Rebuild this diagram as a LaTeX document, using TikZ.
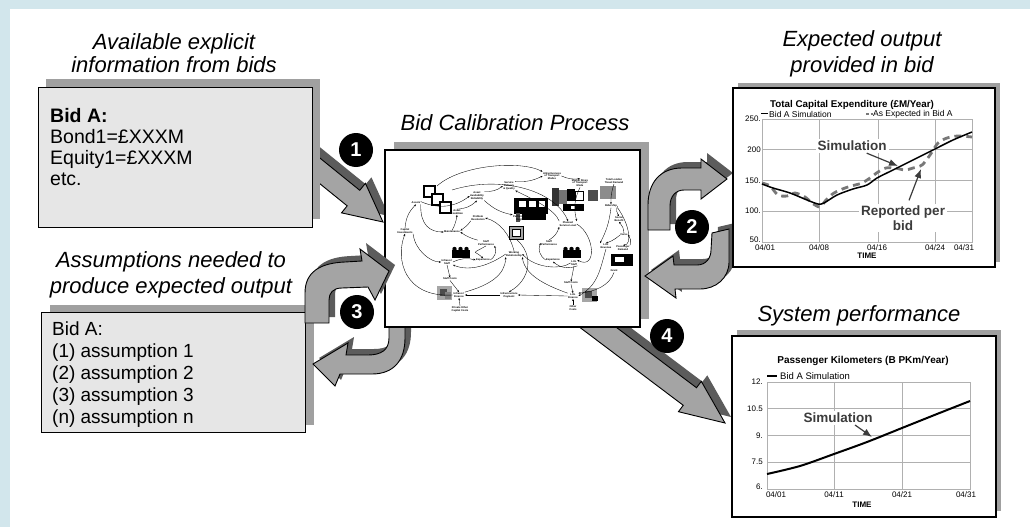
\documentclass[tikz,border=0pt]{standalone}
\usepackage{fontspec}
\setmainfont{Liberation Sans}
\usetikzlibrary{arrows.meta,shadows}
\definecolor{bgblue}{HTML}{D2E6EC}
\definecolor{boxgray}{HTML}{E6E6E6}
\definecolor{boxshadow}{HTML}{A0A0A0}
\definecolor{arrowgray}{HTML}{A4A4A4}
\definecolor{arrowshadow}{HTML}{5C5C5C}
\definecolor{gridgray}{HTML}{B0B0B0}
\definecolor{labelgray}{HTML}{3C3C3C}
\definecolor{dashgray}{HTML}{787878}

\tikzset{
  titletext/.style={font=\fontsize{22}{26}\selectfont\itshape, inner sep=0pt, anchor=base},
  boxtext/.style={font=\fontsize{19.5}{21}\selectfont, inner sep=0pt, anchor=base west},
  blockarr/.style={fill=arrowgray, draw=black, line width=0.9pt, line join=miter},
  arrshadow/.style={fill=arrowshadow},
  badge/.style={circle, fill=black, minimum size=34pt, inner sep=0pt, text=white, font=\fontsize{20}{20}\selectfont\bfseries},
  gridline/.style={gridgray, line width=0.6pt},
  ticklabel/.style={font=\fontsize{8}{9}\selectfont, inner sep=1pt},
  plotnote/.style={font=\fontsize{13.5}{15}\selectfont\bfseries, text=labelgray, fill=white, inner sep=2pt},
  notearrow/.style={labelgray, line width=1.2pt, -{Latex[length=9pt,width=7pt]}},
  cl/.style={font=\fontsize{2.6}{2.9}\selectfont\bfseries, align=center, inner sep=0.3pt},
  cla/.style={line width=0.35pt, -{Stealth[length=2.2pt,width=1.8pt]}},
}

% straight block arrow: tip x, tip y, rotation, total length, half shaft width, half head width, head length
\newcommand{\blockarrow}[7]{%
  \begin{scope}[shift={(#1+6,#2-6)},rotate=#3]
    \path[arrshadow] (-#4,-#5) -- (-#7,-#5) -- (-#7,-#6) -- (0,0) -- (-#7,#6) -- (-#7,#5) -- (-#4,#5) -- cycle;
  \end{scope}
  \begin{scope}[shift={(#1,#2)},rotate=#3]
    \path[blockarr] (-#4,-#5) -- (-#7,-#5) -- (-#7,-#6) -- (0,0) -- (-#7,#6) -- (-#7,#5) -- (-#4,#5) -- cycle;
  \end{scope}}

\def\arrowTwoA{(648,230) -- (648,205) .. controls (648,183) and (660,168) .. (682,168) -- (701,168) -- (701,159) -- (727,179) -- (701,199) -- (701,190) -- (684,190) .. controls (676,190) and (670,196) .. (670,206) -- (670,230) -- cycle}
\def\arrowTwoB{(712,233) -- (729,229) -- (729,262) .. controls (729,278) and (716,289) .. (700,289) -- (675,289) -- (676,298) -- (645,276) -- (673,256) -- (674,265) -- (697,265) .. controls (706,265) and (711,258) .. (711,250) -- cycle}
\def\arrowThreeA{(305,323) -- (305,293) .. controls (305,272) and (320,263) .. (345,262) -- (362,261) -- (360,249) -- (389,271) -- (375,300) -- (368,287) -- (342,288) .. controls (333,288) and (329,293) .. (329,300) -- (329,323) -- cycle}
\def\arrowThreeB{(389,318) -- (389,338) .. controls (389,350) and (381,355) .. (368,355) -- (346,355) -- (348,343) -- (313,364) -- (335,386) -- (340,374) -- (372,374) .. controls (394,374) and (405,360) .. (405,338) -- (405,318) -- cycle}

\begin{document}
\begin{tikzpicture}[x=1pt,y=-1pt]
\useasboundingbox (0,0) rectangle (1030,527);
\fill[bgblue] (0,0) rectangle (1030,527);
\fill[white] (10,9) rectangle (1030,527);

% straight arrows (behind boxes)
\blockarrow{383}{222}{-39}{110}{10}{19}{38}
\blockarrow{725}{423}{-37}{175}{11}{19}{44}

% ---------- Box 1 ----------
\node[titletext] (t1a) at (174,49) {Available explicit};
\node[titletext] (t1b) at (174,73) {information from bids};
\node[draw=black, line width=1pt, fill=boxgray, inner sep=0pt, minimum width=274pt, minimum height=140pt,
      drop shadow={shadow xshift=8pt, shadow yshift=8pt, fill=boxshadow, opacity=1}] (box1) at (175,157) {};
\node[boxtext] (b1l1) at (50,122) {\textbf{Bid A:}};
\node[boxtext] (b1l2) at (50,143) {Bond1=£XXXM};
\node[boxtext] (b1l3) at (50,164) {Equity1=£XXXM};
\node[boxtext] (b1l4) at (50,185) {etc.};

% ---------- Box 3 ----------
\node[titletext] (t3a) at (171,267) {Assumptions needed to};
\node[titletext] (t3b) at (171,293) {produce expected output};
\node[draw=black, line width=1pt, fill=boxgray, inner sep=0pt, minimum width=264pt, minimum height=120pt,
      drop shadow={shadow xshift=9pt, shadow yshift=7pt, fill=boxshadow, opacity=1}] (box3) at (173,372) {};
\node[boxtext, font=\fontsize{19}{21}\selectfont] (b3l1) at (52,335) {Bid A:};
\node[boxtext, font=\fontsize{19}{21}\selectfont] (b3l2) at (52,357) {(1) assumption 1};
\node[boxtext, font=\fontsize{19}{21}\selectfont] (b3l3) at (52,379) {(2) assumption 2};
\node[boxtext, font=\fontsize{19}{21}\selectfont] (b3l4) at (52,401) {(3) assumption 3};
\node[boxtext, font=\fontsize{19}{21}\selectfont] (b3l5) at (52,423) {(n) assumption n};

% lower-left curved arrow (behind centre box)
\path[arrshadow, shift={(6,-6)}] \arrowThreeB;
\path[blockarr] \arrowThreeB;

% ---------- Centre box ----------
\node[titletext] (tc) at (515,130) {Bid Calibration Process};
\node[draw=black, line width=1.2pt, fill=white, inner sep=0pt, minimum width=255pt, minimum height=177pt,
      drop shadow={shadow xshift=9pt, shadow yshift=8pt, fill=boxshadow, opacity=1}] (calib) at (512.5,238.5) {};

% icons of the causal diagram
\foreach \dx/\dy in {0/0,8/8,16/16} \draw[line width=1.5pt, fill=white] (424+\dx,186+\dy) rectangle ++(11,11);
\fill[black] (514,198) rectangle (548,214);
\fill[white] (519,201) rectangle (526,207); \fill[white] (529,201) rectangle (536,207); \fill[white] (539,201) rectangle (545,207);
\fill[black] (522,214) rectangle (546,220);
\fill[black!70] (516,213) rectangle (520,222);
\fill[black!80] (552,188) rectangle (559,206);
\fill[black!55] (559,190) rectangle (567,204);
\fill[black] (567,189) rectangle (575,201);
\draw[fill=white, line width=0.5pt] (575,191) rectangle (583,200);
\fill[black] (563,204) rectangle (584,211); \fill[white] (571,206) rectangle (575,209);
\fill[black!70] (588,190) rectangle (598,201);
\fill[black!45] (600,186) rectangle (616,199);
\draw[line width=1pt, fill=black!35] (509,226) rectangle (523,239); \draw[fill=white, line width=0.4pt] (512,229) rectangle (520,236);
\foreach \px in {452,458,464} {\fill[black] (\px+2.5,249) circle (2.2); \fill[black] (\px,250) rectangle ++(5.5,8);}
\foreach \px in {563,569,575} {\fill[black] (\px+2.5,249) circle (2.2); \fill[black] (\px,250) rectangle ++(5.5,8);}
\fill[black] (611,254) rectangle (633,266); \fill[white] (615,257) rectangle (624,262);
\fill[black!35] (437,286) rectangle (452,300); \fill[black!70] (440,289) rectangle (447,296); \fill[black!50] (445,292) rectangle (451,299);
\fill[black!35] (582,288) rectangle (597,302); \fill[black!70] (585,291) rectangle (592,298); \fill[black] (592,296) rectangle (598,301);

% labels of the causal diagram
\node[cl] (c1) at (552,176) {Attractiveness\\of Transport\\Modes};
\node[cl] (c2) at (509,186) {Service\\Delivery\\\& Quality};
\node[cl] (c3) at (580,183) {Market Share\\of Transport\\Mode};
\node[cl] (c4) at (614,181) {Total London\\Travel Demand};
\node[cl] (c5) at (477,196) {Asset\\Availability\\Reliability};
\node[cl] (c6) at (416,203) {Assets};
\node[cl] (c7) at (457,212) {Asset\\Condition};
\node[cl] (c8) at (611,206) {Ridership};
\node[cl] (c9) at (521,218) {Performance\\Regime};
\node[cl] (c10) at (478,218) {Problem\\Resolution};
\node[cl] (c11) at (568,224) {Planned\\Service Level};
\node[cl] (c12) at (619,219) {Social\\Benefit};
\node[cl] (c13) at (405,231) {Capital\\Investments};
\node[cl] (c14) at (452,232) {Maintenance};
\node[cl] (c15) at (486,243) {Staff\\Performance};
\node[cl] (c16) at (549,243) {Staff\\Performance};
\node[cl] (c17) at (624,235) {Fares};
\node[cl] (c18) at (606,246) {LUL\\Revenue};
\node[cl] (c19) at (447,262) {Infracos'\\Staff};
\node[cl] (c20) at (483,260) {Experience};
\node[cl] (c21) at (514,254) {Working\\Relationship};
\node[cl] (c22) at (553,260) {Experience};
\node[cl] (c23) at (574,263) {LUL\\Staff};
\node[cl] (c24) at (623,248) {Passenger\\Demand};
\node[cl] (c25) at (614,271) {Grant};
\node[cl] (c26) at (450,279) {Staff Costs};
\node[cl] (c27) at (571,283) {Staff Costs};
\node[cl] (c28) at (459,295) {Infracos'\\Finance};
\node[cl] (c29) at (509,295) {Infrastructure\\Payment};
\node[cl] (c30) at (573,296) {LUL\\Finance};
\node[cl] (c31) at (460,309) {Private Other\\Capital Costs};
\node[cl] (c32) at (573,308) {Other\\Costs};

% links of the causal diagram
\draw[cla] (c6.north east) to[bend right=30] (c5.west);
\draw[cla] (c5.north east) to[bend right=20] (c2.west);
\draw[cla] (c2.north east) to[bend right=15] (c1.west);
\draw[cla] (c1.east) to[bend right=15] (c3.north);
\draw[cla] (c4.south) to[bend right=10] (c8.north);
\draw[cla] (c8.east) to[bend right=30] (c12.north);
\draw[cla] (c17.north) to[bend right=20] (c12.south);
\draw[cla] (c24.north east) to[bend right=30] (c17.east);
\draw[cla] (c17.west) to[bend left=10] (c18.north);
\draw[cla] (c8.south) to[bend left=10] (c18.north west);
\draw[cla] (c18.south) .. controls (600,270) and (598,285) .. (c30.east);
\draw[cla] (c25.south) .. controls (610,285) and (595,292) .. (c30.north east);
\draw[cla] (c23.south) -- (c27.north);
\draw[cla] (c27.south) -- (c30.north);
\draw[cla] (c32.north) -- (c30.south);
\draw[cla] (c30.west) -- (c29.east);
\draw[cla] (c29.west) -- (c28.east);
\draw[cla] (c31.north) -- (c28.south);
\draw[cla] (c26.south) -- (c28.north);
\draw[cla] (c19.south) -- (c26.north);
\draw[cla] (c28.west) .. controls (405,298) and (395,260) .. (c13.south);
\draw[cla] (c13.north) to[bend left=20] (c6.south);
\draw[cla] (c6.south east) .. controls (420,225) and (430,232) .. (c14.west);
\draw[cla] (c14.north) to[bend right=10] (c7.south);
\draw[cla] (c7.north) to[bend right=20] (c5.south);
\draw[cla] (c10.south west) to[bend left=10] (c14.north east);
\draw[cla] (c15.north west) to[bend left=10] (c14.east);
\draw[cla] (c19.east) to[bend left=20] (c20.west);
\draw[cla] (c20.east) to[bend right=40] (c15.south east);
\draw[cla] (c13.south east) .. controls (415,250) and (430,262) .. (c19.west);
\draw[cla] (c21.west) .. controls (490,265) and (470,272) .. (c19.south east);
\draw[cla] (c23.west) .. controls (560,270) and (535,268) .. (c21.east);
\draw[cla] (c23.south east) to[bend left=30] (c22.south);
\draw[cla] (c22.west) to[bend left=40] (c16.west);
\draw[cla] (c16.north) to[bend right=20] (c11.south west);
\draw[cla] (c11.north west) .. controls (555,210) and (535,200) .. (c2.south east);
\draw[cla] (c5.south east) to[bend right=15] (c9.north west);
\draw[cla] (c28.north east) .. controls (490,285) and (505,275) .. (c21.south west);
\draw[cla] (c30.north west) .. controls (545,285) and (525,275) .. (c21.south east);
\draw[cla] (c21.north) .. controls (510,235) and (500,222) .. (c10.east);
\draw[cla] (516,239) .. controls (535,255) and (530,280) .. (c29.north);
\draw[cla] (437,186) .. controls (460,165) and (520,160) .. (c1.north west);
\draw[cla] (452,190) .. controls (500,175) and (555,190) .. (c11.north);
\draw[cla] (c3.south) to[bend right=20] (c11.north east);
\draw[cla] (c8.south east) .. controls (630,225) and (632,245) .. (c24.north);
\draw[cla] (c11.east) .. controls (595,235) and (597,270) .. (c23.north east);
\draw[cla] (c15.south) .. controls (470,255) and (475,250) .. (c20.north);

% curved arrows on the right, left-upper
\path[arrshadow, shift={(6,-6)}] \arrowThreeA;
\path[blockarr] \arrowThreeA;
\path[arrshadow, shift={(6,-6)}] \arrowTwoA;
\path[blockarr] \arrowTwoA;
\path[arrshadow, shift={(6,-6)}] \arrowTwoB;
\path[blockarr] \arrowTwoB;

% ---------- Chart 1 ----------
\node[titletext] (t2a) at (862,47) {Expected output};
\node[titletext] (t2b) at (862,73) {provided in bid};
\node[draw=black, line width=1.5pt, fill=white, inner sep=0pt, minimum width=262pt, minimum height=179pt,
      drop shadow={shadow xshift=5pt, shadow yshift=5pt, fill=boxshadow, opacity=1}] (chart1) at (864,177.5) {};
\node[font=\fontsize{9.8}{11}\selectfont\bfseries, inner sep=0pt] (ct1) at (852,105) {Total Capital Expenditure (£M/Year)};
\draw[black, line width=1.2pt] (761,113.5) -- (768,113.5);
\node[font=\fontsize{8.5}{9}\selectfont, anchor=west, inner sep=1pt] (lg1) at (768,114) {Bid A Simulation};
\draw[dashgray, line width=2pt, dash pattern=on 2.5pt off 2pt] (866,113.5) -- (873,113.5);
\node[font=\fontsize{8.5}{9}\selectfont, anchor=west, inner sep=1pt] (lg2) at (872,114) {As Expected in Bid A};
\draw[gridline] (762,119) rectangle (972,242);
\foreach \yy in {149.5,180.5,211} \draw[gridline] (762,\yy) -- (972,\yy);
\foreach \xx in {819,878,935} \draw[gridline] (\xx,119) -- (\xx,242);
\node[ticklabel, anchor=east] at (762,119) {250.};
\node[ticklabel, anchor=east] at (762,149.5) {200};
\node[ticklabel, anchor=east] at (762,180.5) {150.};
\node[ticklabel, anchor=east] at (762,211) {100.};
\node[ticklabel, anchor=east] at (762,240) {50.};
\node[ticklabel] at (765,247.5) {04/01};
\node[ticklabel] at (819,247.5) {04/08};
\node[ticklabel] at (877,247.5) {04/16};
\node[ticklabel] at (935,247.5) {04/24};
\node[ticklabel] at (964,247.5) {04/31};
\node[ticklabel, font=\fontsize{8}{9}\selectfont\bfseries] at (867,256) {TIME};
\node[plotnote] (sim1) at (852,146) {Simulation};
\node[plotnote, align=center, font=\fontsize{13.5}{15}\selectfont\bfseries] (rep1) at (903,218) {Reported per\\bid};
\draw[dashgray, line width=2.8pt, dash pattern=on 7pt off 5pt] plot[smooth] coordinates {(762,183) (770,186) (778,195) (787,196) (795,193) (805,197) (812,203) (820,207) (826,200) (834,193) (845,188) (855,185) (862,183) (870,178) (878,172) (886,168) (895,168) (905,170) (913,168) (922,165) (930,155) (938,143) (947,138) (958,136) (972,137)};
\draw[black, line width=1.5pt] plot[smooth] coordinates {(762,184) (773,188) (790,193) (807,200) (818,204) (824,203) (837,195) (853,189) (867,185) (877,178) (893,170) (913,160) (933,150) (953,140) (972,132)};
\draw[notearrow] (sim1.south east) ++(-22,0) -- (898,166);
\draw[notearrow] (rep1.north) ++(6,-3) -- (921,169);

% ---------- Chart 2 ----------
\node[titletext] (t4) at (859,321) {System performance};
\node[draw=black, line width=1.5pt, fill=white, inner sep=0pt, minimum width=264pt, minimum height=181pt,
      drop shadow={shadow xshift=5pt, shadow yshift=6pt, fill=boxshadow, opacity=1}] (chart2) at (864,426.5) {};
\node[font=\fontsize{10}{11}\selectfont\bfseries, inner sep=0pt] (ct2) at (863,361) {Passenger Kilometers (B PKm/Year)};
\draw[black, line width=1.3pt] (767,376) -- (777,376);
\node[font=\fontsize{9.5}{10}\selectfont, anchor=west, inner sep=1pt] (lg3) at (779,376) {Bid A Simulation};
\draw[gridline] (767,382) rectangle (970,489);
\foreach \yy in {408.5,435.5,462} \draw[gridline] (767,\yy) -- (970,\yy);
\foreach \xx in {834,902} \draw[gridline] (\xx,382) -- (\xx,489);
\node[ticklabel, anchor=east] at (764,382) {12.};
\node[ticklabel, anchor=east] at (764,408.5) {10.5};
\node[ticklabel, anchor=east] at (764,435.5) {9.};
\node[ticklabel, anchor=east] at (764,462) {7.5};
\node[ticklabel, anchor=east] at (764,487) {6.};
\node[ticklabel] at (776,494.5) {04/01};
\node[ticklabel] at (834,494.5) {04/11};
\node[ticklabel] at (902,494.5) {04/21};
\node[ticklabel] at (966,494.5) {04/31};
\node[ticklabel, font=\fontsize{8}{9}\selectfont\bfseries] at (862,505) {TIME};
\node[plotnote] (sim2) at (838,418) {Simulation};
\draw[black, line width=2pt] plot[smooth] coordinates {(767,474) (800,466) (834,454) (867,442) (902,428) (937,414) (970,401)};
\draw[notearrow] (855,425) -- (872,437);

% ---------- badges ----------
\node[badge] (n1) at (356,150) {1};
\node[badge] (n2) at (692,227) {2};
\node[badge] (n3) at (357,312) {3};
\node[badge] (n4) at (667,336) {4};
\end{tikzpicture}
\end{document}
